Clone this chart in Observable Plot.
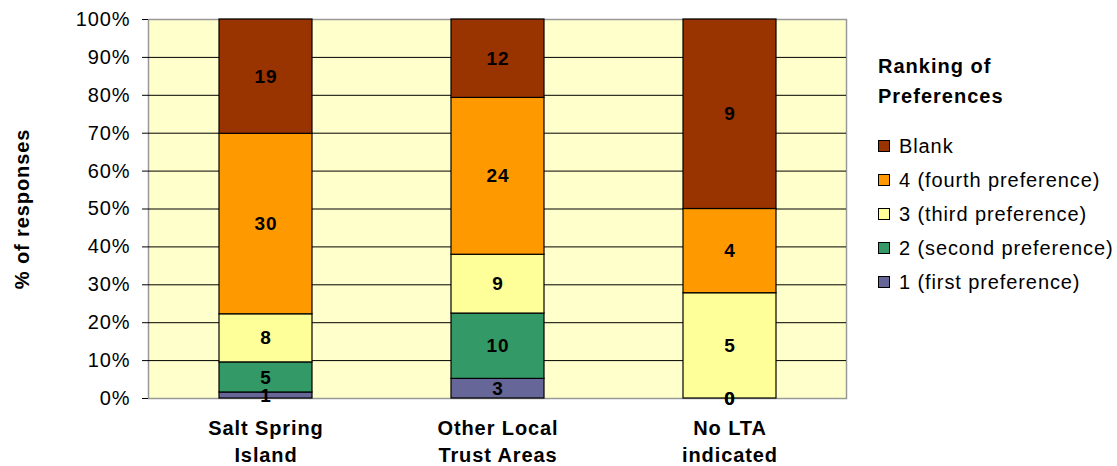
<!DOCTYPE html>
<html>
<head>
<meta charset="utf-8">
<script src="https://cdn.jsdelivr.net/npm/d3@7"></script>
<script src="https://cdn.jsdelivr.net/npm/@observablehq/plot@0.6"></script>
<style>
  body { margin: 0; background: #fff; font-family: "Liberation Sans", Arial, sans-serif; }
  #wrap { position: relative; width: 1117px; height: 466px; }
  #chart svg text { letter-spacing: 0.9px; }
  #legend { position: absolute; left: 878px; top: 51px; font-size: 20px; letter-spacing: 0.9px; color: #000; }
  #legend .title { font-weight: bold; line-height: 30px; margin-bottom: 18px; letter-spacing: 1px; }
  #legend .item { display: flex; align-items: center; height: 34px; }
  #legend .sw { width: 12px; height: 12px; border: 1px solid #000; margin-right: 9px; box-sizing: border-box; }
</style>
</head>
<body>
<div id="wrap">
  <div id="chart"></div>
  <div id="legend"></div>
</div>
<script>
const categories = ["Salt Spring Island", "Other Local Trust Areas", "No LTA indicated"];
const tickLabels = ["Salt Spring\nIsland", "Other Local\nTrust Areas", "No LTA\nindicated"];
const series = ["1 (first preference)", "2 (second preference)", "3 (third preference)", "4 (fourth preference)", "Blank"];
const seriesColors = ["#666699", "#339966", "#FFFF99", "#FF9900", "#993300"];
const first  = [1, 3, 0];
const second = [5, 10, 0];
const third  = [8, 9, 5];
const fourth = [30, 24, 4];
const blank  = [19, 12, 9];
const yTicks = [0, 0.1, 0.2, 0.3, 0.4, 0.5, 0.6, 0.7, 0.8, 0.9, 1];

const valuesBySeries = [first, second, third, fourth, blank];
const data = [];
categories.forEach((c, ci) => {
  series.forEach((s, si) => data.push({category: c, series: s, value: valuesBySeries[si][ci]}));
});

const stackOpts = {x: "category", y: "value", z: "series", offset: "normalize", order: null};

const chart = Plot.plot({
  width: 1117,
  height: 466,
  marginLeft: 148,
  marginTop: 19,
  marginBottom: 68,
  marginRight: 271,
  style: {fontFamily: "'Liberation Sans', Arial, sans-serif", background: "transparent"},
  x: {domain: categories, paddingInner: 0.6, paddingOuter: 0.3, label: null},
  y: {domain: [0, 1], label: null},
  color: {domain: series, range: seriesColors},
  marks: [
    Plot.frame({fill: "#FFFFCC", stroke: "#999999", strokeWidth: 1.5}),
    Plot.ruleY(yTicks.slice(1, -1), {stroke: "#000", strokeWidth: 1}),
    Plot.barY(data, Plot.stackY({...stackOpts, fill: "series", stroke: "#000", strokeWidth: 1.2, inset: 0})),
    Plot.text(data, Plot.stackY({...stackOpts, text: d => String(d.value), fontWeight: "bold", fontSize: 19, fill: "#000"})),
    Plot.axisY({ticks: yTicks, tickFormat: d3.format(".0%"), tickSize: 6, tickPadding: 12, fontSize: 20, stroke: "#000", color: "#000"}),
    Plot.ruleX([0], {x: () => 0, frameAnchor: "left"}),
    Plot.axisX({tickSize: 0, tickPadding: 17, fontSize: 20, fontWeight: "bold", lineHeight: 1.35, lineAnchor: "top",
      tickFormat: d => tickLabels[categories.indexOf(d)]}),
    Plot.text(["% of responses"], {frameAnchor: "left", textAnchor: "middle", dx: -126, rotate: -90, fontSize: 20, fontWeight: "bold", fill: "#000"})
  ]
});
document.getElementById("chart").appendChild(chart);

const legend = document.getElementById("legend");
legend.innerHTML = '<div class="title">Ranking of<br>Preferences</div>' +
  series.slice().reverse().map((s, i) => {
    const col = seriesColors[series.length - 1 - i];
    return `<div class="item"><div class="sw" style="background:${col}"></div><span>${s}</span></div>`;
  }).join("");
</script>
</body>
</html>
